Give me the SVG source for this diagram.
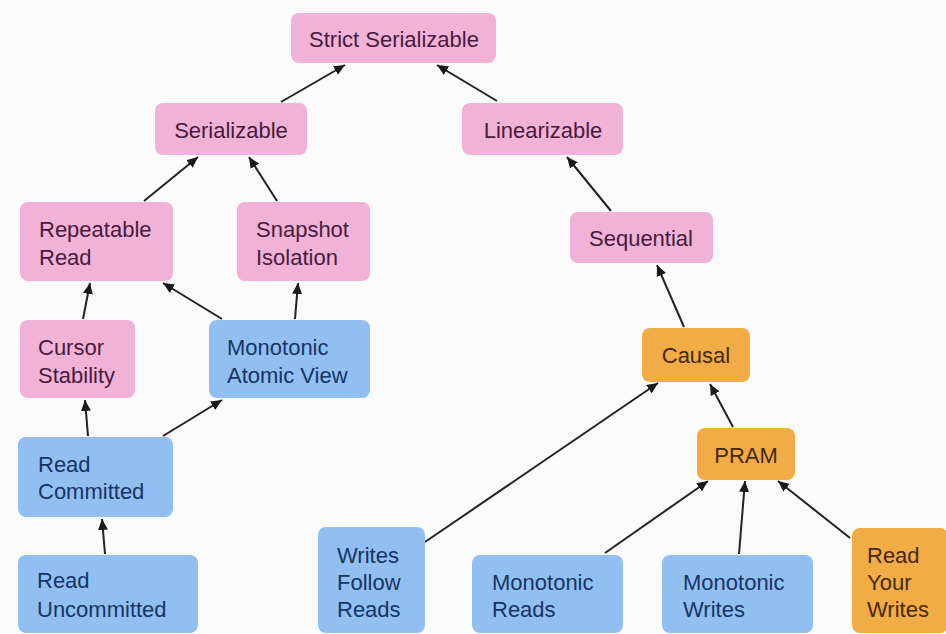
<svg xmlns="http://www.w3.org/2000/svg" width="946" height="634" viewBox="0 0 946 634">
  <style>
    .box { stroke: none; }
    .pink { fill: #f0b2d6; }
    .blue { fill: #92bff1; }
    .orange { fill: #f1ac46; }
    text { font-family: "Liberation Sans", Arial, Helvetica, sans-serif; font-size: 22px; }
    .tp { fill: #4a1a3e; }
    .tb { fill: #153566; }
    .to { fill: #46280a; }
    .c { text-anchor: middle; }
    .edge { stroke: #222; stroke-width: 2; fill: none; marker-end: url(#arrow); }
  </style>
  <defs>
    <marker id="arrow" markerUnits="userSpaceOnUse" markerWidth="12" markerHeight="10" refX="11" refY="5" orient="auto">
      <path d="M0,0 L11,5 L0,10 Z" fill="#1a1a1a"/>
    </marker>
  </defs>

  <rect width="946" height="634" fill="#fafafa"/>

  <!-- connectors: each arrow points from the weaker model to the stronger one -->
  <g id="connectors">
    <line class="edge" x1="281" y1="102" x2="345" y2="65"/>
    <line class="edge" x1="497" y1="101" x2="437" y2="65"/>
    <line class="edge" x1="144" y1="201" x2="198" y2="157"/>
    <line class="edge" x1="277" y1="201" x2="249" y2="157"/>
    <line class="edge" x1="611" y1="211" x2="567" y2="157"/>
    <line class="edge" x1="684" y1="327" x2="657" y2="265"/>
    <line class="edge" x1="733" y1="427" x2="710" y2="384"/>
    <line class="edge" x1="425" y1="542" x2="658" y2="383"/>
    <line class="edge" x1="605" y1="553" x2="708" y2="481"/>
    <line class="edge" x1="739" y1="554" x2="745" y2="481"/>
    <line class="edge" x1="850" y1="538" x2="778" y2="481"/>
    <line class="edge" x1="83" y1="319" x2="90" y2="283"/>
    <line class="edge" x1="222" y1="319" x2="163" y2="283"/>
    <line class="edge" x1="295" y1="319" x2="298" y2="283"/>
    <line class="edge" x1="88" y1="436" x2="85" y2="400"/>
    <line class="edge" x1="163" y1="436" x2="222" y2="400"/>
    <line class="edge" x1="105" y1="554" x2="102" y2="519"/>
  </g>

  <g id="strict-serializable">
    <rect class="box pink" x="291" y="13" width="205" height="50" rx="8"/>
    <text class="tp c" x="394" y="47">Strict Serializable</text>
  </g>
  <g id="serializable">
    <rect class="box pink" x="155" y="103" width="152" height="52" rx="8"/>
    <text class="tp c" x="231" y="138">Serializable</text>
  </g>
  <g id="linearizable">
    <rect class="box pink" x="462" y="103" width="161" height="52" rx="8"/>
    <text class="tp c" x="543" y="138">Linearizable</text>
  </g>
  <g id="repeatable-read">
    <rect class="box pink" x="20" y="202" width="153" height="79" rx="8"/>
    <text class="tp" x="39" y="237">Repeatable</text>
    <text class="tp" x="39" y="265">Read</text>
  </g>
  <g id="snapshot-isolation">
    <rect class="box pink" x="237" y="202" width="133" height="79" rx="8"/>
    <text class="tp" x="256" y="237">Snapshot</text>
    <text class="tp" x="256" y="265">Isolation</text>
  </g>
  <g id="sequential">
    <rect class="box pink" x="570" y="212" width="143" height="51" rx="8"/>
    <text class="tp c" x="641" y="246">Sequential</text>
  </g>
  <g id="cursor-stability">
    <rect class="box pink" x="20" y="320" width="115" height="78" rx="8"/>
    <text class="tp" x="38" y="355">Cursor</text>
    <text class="tp" x="38" y="383">Stability</text>
  </g>
  <g id="monotonic-atomic-view">
    <rect class="box blue" x="209" y="320" width="161" height="78" rx="8"/>
    <text class="tb" x="227" y="355">Monotonic</text>
    <text class="tb" x="227" y="383">Atomic View</text>
  </g>
  <g id="causal">
    <rect class="box orange" x="642" y="328" width="108" height="54" rx="8"/>
    <text class="to c" x="696" y="363">Causal</text>
  </g>
  <g id="read-committed">
    <rect class="box blue" x="18" y="437" width="155" height="80" rx="8"/>
    <text class="tb" x="38" y="472">Read</text>
    <text class="tb" x="38" y="499">Committed</text>
  </g>
  <g id="pram">
    <rect class="box orange" x="697" y="428" width="98" height="52" rx="8"/>
    <text class="to c" x="746" y="463">PRAM</text>
  </g>
  <g id="read-uncommitted">
    <rect class="box blue" x="18" y="555" width="180" height="78" rx="8"/>
    <text class="tb" x="37" y="588">Read</text>
    <text class="tb" x="37" y="617">Uncommitted</text>
  </g>
  <g id="writes-follow-reads">
    <rect class="box blue" x="318" y="527" width="107" height="106" rx="8"/>
    <text class="tb" x="337" y="563">Writes</text>
    <text class="tb" x="337" y="590">Follow</text>
    <text class="tb" x="337" y="617">Reads</text>
  </g>
  <g id="monotonic-reads">
    <rect class="box blue" x="472" y="555" width="151" height="78" rx="8"/>
    <text class="tb" x="492" y="590">Monotonic</text>
    <text class="tb" x="492" y="617">Reads</text>
  </g>
  <g id="monotonic-writes">
    <rect class="box blue" x="662" y="555" width="151" height="78" rx="8"/>
    <text class="tb" x="683" y="590">Monotonic</text>
    <text class="tb" x="683" y="617">Writes</text>
  </g>
  <g id="read-your-writes">
    <rect class="box orange" x="852" y="528" width="96" height="105" rx="8"/>
    <text class="to" x="867" y="563">Read</text>
    <text class="to" x="867" y="590">Your</text>
    <text class="to" x="867" y="617">Writes</text>
  </g>
</svg>
